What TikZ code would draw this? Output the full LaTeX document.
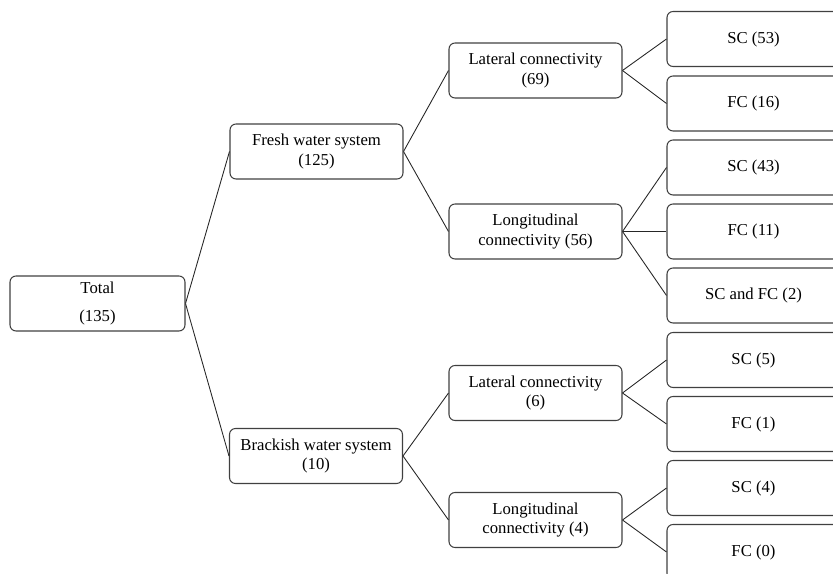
\documentclass[tikz,border=0pt]{standalone}
\usepackage{fontspec}
\setmainfont{Liberation Serif}
\begin{document}
\begin{tikzpicture}[x=0.02cm, y=-0.02cm,
    box/.style={draw=black!75, line width=0.6pt, rounded corners=0.12cm,
        minimum width=3.46cm, minimum height=1.1cm, inner sep=1pt,
        align=center, font=\fontsize{9.5}{11}\selectfont},
    link/.style={black!85, line width=0.5pt}]
\useasboundingbox (0, 0) rectangle (833, 574);
\clip (0, 0) rectangle (833, 574);

\node[box, minimum width=3.5cm] (total) at (97.5, 303.5) {Total\\[5pt](135)};

\node[box] (fresh) at (316.5, 151.5) {Fresh water system\\(125)};
\node[box] (brackish) at (316, 456) {Brackish water system\\(10)};

\node[box] (latfresh) at (535.5, 70.5) {Lateral connectivity\\(69)};
\node[box] (lonfresh) at (535.5, 231.5) {Longitudinal\\connectivity (56)};
\node[box] (latbrack) at (535.5, 393) {Lateral connectivity\\(6)};
\node[box] (lonbrack) at (535.5, 520) {Longitudinal\\connectivity (4)};

\node[box] (sc53) at (753.5, 39) {SC (53)};
\node[box] (fc16) at (753.5, 103.5) {FC (16)};
\node[box] (sc43) at (753.5, 167.5) {SC (43)};
\node[box] (fc11) at (753.5, 231.5) {FC (11)};
\node[box] (scfc2) at (753.5, 295.5) {SC and FC (2)};
\node[box] (sc5) at (753.5, 360) {SC (5)};
\node[box] (fc1) at (753.5, 424) {FC (1)};
\node[box] (sc4) at (753.5, 488) {SC (4)};
\node[box] (fc0) at (753.5, 552) {FC (0)};

\draw[link] (total.east) -- (fresh.west);
\draw[link] (total.east) -- (brackish.west);

\draw[link] (fresh.east) -- (latfresh.west);
\draw[link] (fresh.east) -- (lonfresh.west);
\draw[link] (brackish.east) -- (latbrack.west);
\draw[link] (brackish.east) -- (lonbrack.west);

\draw[link] (latfresh.east) -- (sc53.west);
\draw[link] (latfresh.east) -- (fc16.west);
\draw[link] (lonfresh.east) -- (sc43.west);
\draw[link] (lonfresh.east) -- (fc11.west);
\draw[link] (lonfresh.east) -- (scfc2.west);
\draw[link] (latbrack.east) -- (sc5.west);
\draw[link] (latbrack.east) -- (fc1.west);
\draw[link] (lonbrack.east) -- (sc4.west);
\draw[link] (lonbrack.east) -- (fc0.west);
\end{tikzpicture}
\end{document}
